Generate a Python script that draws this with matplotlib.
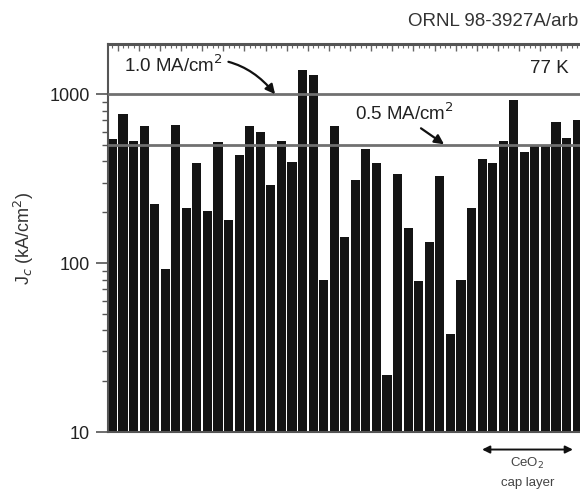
import numpy as np
import matplotlib
matplotlib.use('Agg')
import matplotlib.pyplot as plt
from matplotlib.ticker import FixedLocator, LogLocator, NullFormatter

plt.rcParams['font.family'] = ['Liberation Sans', 'DejaVu Sans']

# Jc of each sample at 77 K (kA/cm2)
jc = [540, 768, 527, 647, 223, 92, 656, 211, 393, 203,
      522, 181, 436, 647, 598, 292, 530, 398, 1400, 1295,
      80, 647, 143, 310, 471, 389, 21.7, 336, 162, 78.5,
      134, 327, 38, 80, 211, 412, 393, 530, 921, 452,
      499, 499, 686, 547, 708]
ref_levels = [1000, 500]   # 1.0 and 0.5 MA/cm2
y_ticks = [10, 100, 1000]

fig = plt.figure(figsize=(5.8, 4.91), dpi=100)
ax = fig.add_axes([0.186, 0.120, 0.814, 0.790])

x = np.arange(len(jc))
ax.bar(x, jc, width=0.86, color='#141414', edgecolor='none', zorder=2)

for lev in ref_levels:
    ax.axhline(lev, color='#707070', lw=2.0, zorder=3)

ax.set_yscale('log')
ax.set_ylim(10, 1977)
ax.set_xlim(-0.43, 44.27)

ax.yaxis.set_major_locator(FixedLocator(y_ticks))
ax.set_yticklabels([str(t) for t in y_ticks])
ax.yaxis.set_minor_locator(LogLocator(base=10, subs=np.arange(2, 10)))
ax.yaxis.set_minor_formatter(NullFormatter())
ax.tick_params(axis='y', which='major', direction='out', length=9, width=1.2,
               color='#555555', labelsize=13, labelcolor='#222222', pad=4)
ax.tick_params(axis='y', which='minor', direction='out', length=4, width=1,
               color='#555555')

# small ticks along the top frame only
ax.xaxis.set_major_locator(FixedLocator(np.arange(0, 45, 2) + 0.5))
ax.xaxis.set_minor_locator(FixedLocator(np.arange(0, 45, 0.5)))
ax.tick_params(axis='x', which='both', bottom=False, top=True, labelbottom=False,
               direction='in', color='#666666')
ax.tick_params(axis='x', which='major', length=5, width=1)
ax.tick_params(axis='x', which='minor', length=3, width=0.8)

ax.spines['right'].set_visible(False)
ax.spines['top'].set_color('#555555')
ax.spines['top'].set_linewidth(2.2)
ax.spines['left'].set_color('#555555')
ax.spines['left'].set_linewidth(1.5)
ax.spines['bottom'].set_color('#555555')
ax.spines['bottom'].set_linewidth(1.5)

ax.set_ylabel('J$_c$ (kA/cm$^2$)', fontsize=13, color='#333333', labelpad=10)

# labels for the two reference lines
ax.annotate('1.0 MA/cm$^2$', xy=(15.4, 1000), xytext=(1.1, 1480),
            fontsize=13.5, color='#222222', va='center',
            arrowprops=dict(arrowstyle='-|>', color='#111111', lw=1.6,
                            connectionstyle='arc3,rad=-0.35',
                            shrinkA=2, shrinkB=0, mutation_scale=14))
ax.annotate('0.5 MA/cm$^2$', xy=(31.4, 505), xytext=(23.0, 772),
            fontsize=13.5, color='#222222', va='center',
            arrowprops=dict(arrowstyle='-|>', color='#111111', lw=1.6,
                            shrinkA=2, shrinkB=0, mutation_scale=14,
                            relpos=(0.6, 0.0)))
ax.text(39.5, 1420, '77 K', fontsize=13.5, color='#222222', va='center')

# CeO2 cap layer span below the axis
ax.annotate('', xy=(35.0, -0.045), xytext=(43.6, -0.045),
            xycoords=('data', 'axes fraction'),
            textcoords=('data', 'axes fraction'),
            arrowprops=dict(arrowstyle='<|-|>', color='#111111', lw=1.4,
                            mutation_scale=11, shrinkA=0, shrinkB=0),
            annotation_clip=False)
ax.text(39.3, -0.08, 'CeO$_2$', transform=ax.get_xaxis_transform(),
        ha='center', va='center', fontsize=9.5, color='#444444')
ax.text(39.3, -0.13, 'cap layer', transform=ax.get_xaxis_transform(),
        ha='center', va='center', fontsize=9.5, color='#444444')

fig.text(408 / 580, 1 - 21 / 491, 'ORNL 98-3927A/arb', fontsize=13.5,
         color='#333333', ha='left', va='center')

fig.savefig('out.png', dpi=100)
